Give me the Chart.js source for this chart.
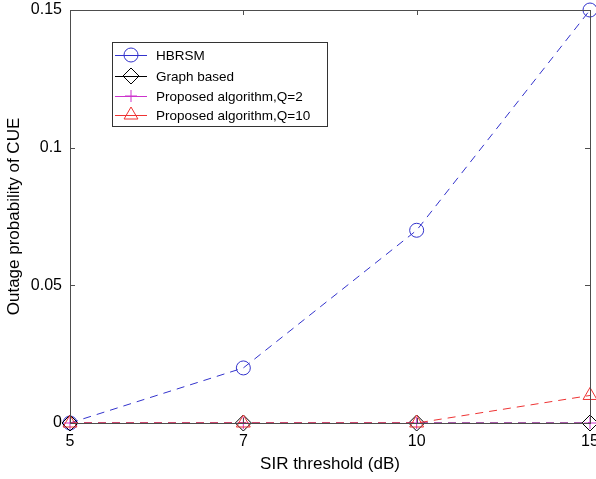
<!DOCTYPE html>
<html><head><meta charset="utf-8">
<script src="https://cdn.jsdelivr.net/npm/chart.js"></script>
<style>
html,body{margin:0;padding:0;background:#fff;overflow:hidden;width:596px;height:479px;}
#wrap{width:599px;height:479px;position:relative;}
</style></head><body>
<div id="wrap"><canvas id="c"></canvas></div>
<script>
var sirLabels = ['5', '7', '10', '15'];
var hbrsm = [0, 0.02, 0.07, 0.15];
var graphBased = [0, 0, 0, 0];
var propQ2 = [0, 0, 0, 0];
var propQ10 = [0, 0, 0, 0.01];
var yTicks = [0, 0.05, 0.1, 0.15];

var FONT = 'Liberation Sans, Arial, sans-serif';

function ds(label, data, color, style, r, order) {
    return { label: label, data: data, borderColor: color, backgroundColor: 'rgba(0,0,0,0)',
        borderWidth: 1, borderDash: [8, 6], pointStyle: style, pointRadius: r, pointHoverRadius: r,
        pointBorderColor: color, pointBackgroundColor: 'rgba(0,0,0,0)', pointBorderWidth: 1,
        tension: 0, fill: false, clip: false, order: order };
}

// box, inward ticks and legend drawn inside the plot like the matlab figure
var frame = {
    id: 'frame',
    afterDraw: function(chart) {
        var ctx = chart.ctx, a = chart.chartArea;
        var xs = chart.scales.x, ys = chart.scales.y;
        ctx.save();
        ctx.strokeStyle = '#4d4d4d'; ctx.lineWidth = 1; ctx.setLineDash([]);
        ctx.strokeRect(Math.round(a.left) + 0.5, Math.round(a.top) + 0.5, Math.round(a.right - a.left), Math.round(a.bottom - a.top));
        ctx.beginPath();
        sirLabels.forEach(function(l, i) {
            var x = Math.round(xs.getPixelForValue(i)) + 0.5;
            ctx.moveTo(x, a.bottom); ctx.lineTo(x, a.bottom - 5);
            ctx.moveTo(x, a.top); ctx.lineTo(x, a.top + 5);
        });
        yTicks.forEach(function(v) {
            var y = Math.round(ys.getPixelForValue(v)) + 0.5;
            ctx.moveTo(a.left, y); ctx.lineTo(a.left + 5, y);
            ctx.moveTo(a.right, y); ctx.lineTo(a.right - 5, y);
        });
        ctx.stroke();

        // legend
        var bx = 112.5, by = 42.5, bw = 215, bh = 84;
        ctx.fillStyle = '#fff'; ctx.fillRect(bx, by, bw, bh);
        ctx.strokeStyle = '#333'; ctx.strokeRect(bx, by, bw, bh);
        var rows = [55, 76, 96, 115];
        ctx.textBaseline = 'middle'; ctx.textAlign = 'left';
        chart.data.datasets.forEach(function(d, i) {
            var y = rows[i];
            ctx.strokeStyle = d.borderColor; ctx.lineWidth = 1;
            ctx.beginPath(); ctx.moveTo(115, y + 0.5); ctx.lineTo(147, y + 0.5); ctx.stroke();
            ctx.fillStyle = 'rgba(0,0,0,0)';
            Chart.helpers.drawPoint(ctx, { pointStyle: d.pointStyle, radius: d.pointRadius, borderWidth: 1 }, 131, y);
            ctx.fillStyle = '#000';
            ctx.font = '13.5px ' + FONT;
            ctx.fillText(d.label, 156, y + 1);
        });
        ctx.restore();
    }
};

new Chart(document.getElementById('c'), {
    type: 'line',
    data: {
        labels: sirLabels,
        datasets: [
            ds('HBRSM', hbrsm, '#3333cc', 'circle', 7, 3),
            ds('Graph based', graphBased, '#000000', 'rectRot', 8, 2),
            ds('Proposed algorithm,Q=2', propQ2, '#cc33cc', 'cross', 6, 1),
            ds('Proposed algorithm,Q=10', propQ10, '#ee3333', 'triangle', 8, 0)
        ]
    },
    options: {
        responsive: true, maintainAspectRatio: false, animation: false,
        layout: { padding: { top: 10, left: 0, right: 3, bottom: 0 } },
        plugins: { legend: { display: false }, tooltip: { enabled: false } },
        scales: {
            x: {
                offset: false,
                afterFit: function(s) { s.height = 56; s.paddingLeft = 0; s.paddingRight = 0; },
                grid: { display: false, drawTicks: false },
                border: { display: false },
                ticks: { color: '#000', font: { family: FONT, size: 16 }, padding: 9, maxRotation: 0 },
                title: { display: true, text: 'SIR threshold (dB)', color: '#000', font: { family: FONT, size: 17 }, padding: { top: 7 } }
            },
            y: {
                min: 0, max: 0.15,
                afterBuildTicks: function(s) { s.ticks = yTicks.map(function(v) { return { value: v }; }); },
                afterFit: function(s) { s.width = 70; s.paddingTop = 0; s.paddingBottom = 0; },
                grid: { display: false, drawTicks: false },
                border: { display: false },
                ticks: { color: '#000', font: { family: FONT, size: 16 }, padding: 8,
                    callback: function(v) { return String(Number(v.toFixed(2))); } },
                title: { display: true, text: 'Outage probability of CUE', color: '#000', font: { family: FONT, size: 17 }, padding: { top: 4, bottom: 4 } }
            }
        }
    },
    plugins: [frame]
});
</script>
</body></html>
